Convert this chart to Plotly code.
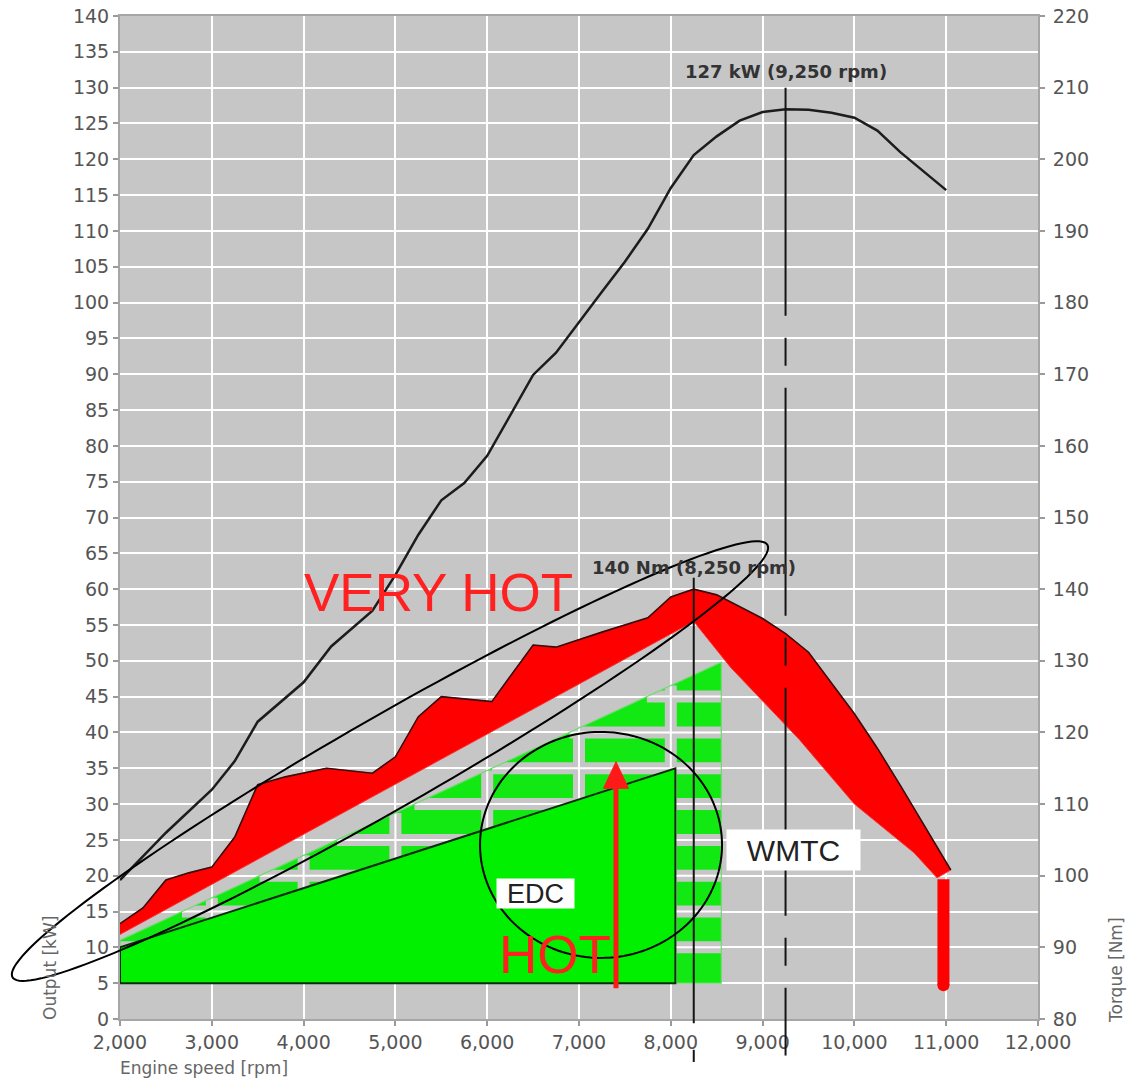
import numpy as np
import plotly.graph_objects as go

# ------------------------------------------------------------------
# Data: engine speed [rpm], output [kW], torque [Nm]
# ------------------------------------------------------------------
power_rpm = [2000, 2500, 3000, 3250, 3500, 4000, 4300, 4750, 5000, 5250, 5500, 5750,
             6000, 6250, 6500, 6750, 7000, 7250, 7500, 7750, 8000, 8250, 8500, 8750,
             9000, 9250, 9500, 9750, 10000, 10250, 10500, 11000]
power_kw = [19.4, 26.0, 32.0, 36.0, 41.5, 47.0, 52.0, 57.0, 62.0, 67.6, 72.4, 74.8,
            78.6, 84.3, 89.9, 93.0, 97.3, 101.5, 105.7, 110.3, 116.0, 120.6, 123.2, 125.4,
            126.6, 127.0, 126.9, 126.5, 125.8, 124.0, 121.0, 115.7]

# upper and lower edge of the torque band
torque_top_rpm = [2000, 2250, 2500, 2750, 3000, 3250, 3500, 3800, 4250, 4750, 5000, 5250,
                  5500, 6050, 6500, 6750, 7250, 7750, 8000, 8250, 8500, 9000, 9250, 9500,
                  10000, 10250, 10500, 10750, 11050]
torque_top_nm = [93.3, 95.5, 99.4, 100.4, 101.2, 105.4, 112.7, 113.8, 115.0, 114.3, 116.6, 122.2,
                 125.0, 124.3, 132.2, 131.9, 134.0, 136.0, 138.9, 140.0, 139.2, 135.9, 133.8, 131.2,
                 122.6, 117.8, 112.6, 107.3, 100.8]
torque_bottom_rpm = [2000, 8250, 8650, 9400, 10000, 10650, 10900]
torque_bottom_nm = [91.8, 135.5, 129.1, 119.0, 110.0, 103.2, 99.7]

# torque drop-off stub at the limiter
stub_rpm = [10970, 10970]
stub_nm = [99.5, 84.7]

# EDC and WMTC operating areas
edc_rpm = [2000, 2000, 8050, 8050, 2000]
edc_kw = [5, 10, 35, 5, 5]
wmtc_rpm = [2000, 2000, 8550, 8550, 2000]
wmtc_kw = [5, 11, 49.8, 5, 5]

x_ticks = list(range(2000, 12001, 1000))
y_ticks = list(range(0, 141, 5))
y2_ticks = list(range(80, 221, 10))

# ------------------------------------------------------------------
# Geometry helpers
# ------------------------------------------------------------------
X0, X1 = 2000, 12000
Y0, Y1 = 0, 140
T0, T1 = 80, 220
FIG_W, FIG_H = 1128, 1079
MARGIN = dict(l=120, r=90, t=16, b=60, autoexpand=False)
PW = FIG_W - MARGIN["l"] - MARGIN["r"]
PH = FIG_H - MARGIN["t"] - MARGIN["b"]

BG = "#c6c6c6"
FONT = "DejaVu Sans"


def nm_to_kw(nm):
    return Y0 + (nm - T0) / (T1 - T0) * (Y1 - Y0)


def paper_x(rpm):
    return (rpm - X0) / (X1 - X0)


def paper_y(kw):
    return (kw - Y0) / (Y1 - Y0)


def ellipse_path(cx_rpm, cy_kw, a_px, b_px, angle_deg, n=160):
    cx, cy = paper_x(cx_rpm), paper_y(cy_kw)
    t = np.linspace(0, 2 * np.pi, n)
    th = np.radians(angle_deg)
    dx = a_px * np.cos(t) * np.cos(th) - b_px * np.sin(t) * np.sin(th)
    dy = a_px * np.cos(t) * np.sin(th) + b_px * np.sin(t) * np.cos(th)
    xs = cx + dx / PW
    ys = cy + dy / PH
    pts = [f"{x:.5f},{y:.5f}" for x, y in zip(xs, ys)]
    return "M " + " L ".join(pts) + " Z"


fig = go.Figure()

# ---- WMTC area: green blocks separated along the grid ----
fig.add_trace(go.Scatter(x=wmtc_rpm, y=wmtc_kw, fill="toself", fillcolor="#12e812",
                         line=dict(width=0), mode="lines", hoverinfo="skip", showlegend=False))

top_r0, top_r1 = wmtc_rpm[1], wmtc_rpm[2]
top_k0, top_k1 = wmtc_kw[1], wmtc_kw[2]
gap_x, gap_y = [], []
for k in y_ticks:
    if wmtc_kw[0] < k < top_k1:
        r_start = max(top_r0, np.interp(k, [top_k0, top_k1], [top_r0, top_r1]))
        gap_x += [r_start, top_r1, None]
        gap_y += [k, k, None]
for r in x_ticks:
    if top_r0 < r < top_r1:
        k_top = np.interp(r, [top_r0, top_r1], [top_k0, top_k1])
        gap_x += [r, r, None]
        gap_y += [wmtc_kw[0], k_top, None]
fig.add_trace(go.Scatter(x=gap_x, y=gap_y, mode="lines", line=dict(color=BG, width=12),
                         hoverinfo="skip", showlegend=False))
fig.add_trace(go.Scatter(x=gap_x, y=gap_y, mode="lines", line=dict(color="white", width=2),
                         hoverinfo="skip", showlegend=False))
fig.add_trace(go.Scatter(x=wmtc_rpm, y=wmtc_kw, mode="lines",
                         line=dict(color="#6fdc6f", width=1.2), hoverinfo="skip", showlegend=False))

# ---- EDC area ----
fig.add_trace(go.Scatter(x=edc_rpm, y=edc_kw, fill="toself", fillcolor="#00f000",
                         mode="lines", line=dict(color="#0d2a0d", width=2),
                         hoverinfo="skip", showlegend=False))

# ---- torque band ----
band_x = torque_top_rpm + torque_bottom_rpm[::-1]
band_y = torque_top_nm + torque_bottom_nm[::-1]
fig.add_trace(go.Scatter(x=band_x, y=band_y, yaxis="y2", fill="toself", fillcolor="#ff0000",
                         mode="lines", line=dict(color="#ff3030", width=1),
                         hoverinfo="skip", showlegend=False))
fig.add_trace(go.Scatter(x=torque_top_rpm, y=torque_top_nm, yaxis="y2", mode="lines",
                         line=dict(color="#3a0c0c", width=1.6), hoverinfo="skip", showlegend=False))
fig.add_trace(go.Scatter(x=stub_rpm, y=stub_nm, yaxis="y2", mode="lines",
                         line=dict(color="#ff0000", width=12), hoverinfo="skip", showlegend=False))
fig.add_trace(go.Scatter(x=stub_rpm[1:], y=stub_nm[1:], yaxis="y2", mode="markers",
                         marker=dict(color="#ff0000", size=12, line=dict(width=0)),
                         hoverinfo="skip", showlegend=False))

# ---- power curve ----
fig.add_trace(go.Scatter(x=power_rpm, y=power_kw, mode="lines",
                         line=dict(color="#1c1c1c", width=2.5), hoverinfo="skip", showlegend=False))

# ---- peak markers ----
i_p = int(np.argmax(power_kw))
peak_power_kw, peak_power_rpm = power_kw[i_p], power_rpm[i_p]
i_t = int(np.argmax(torque_top_nm))
peak_torque_nm, peak_torque_rpm = torque_top_nm[i_t], torque_top_rpm[i_t]

shapes = []
shapes.append(dict(type="line", xref="paper", yref="paper",
                   x0=paper_x(peak_power_rpm), x1=paper_x(peak_power_rpm),
                   y0=paper_y(130), y1=paper_y(-5.1),
                   line=dict(color="#151515", width=2, dash="228px,22px,28px,22px"),
                   layer="above"))
shapes.append(dict(type="line", xref="paper", yref="paper",
                   x0=paper_x(peak_torque_rpm), x1=paper_x(peak_torque_rpm),
                   y0=paper_y(nm_to_kw(141.6)), y1=paper_y(-0.6),
                   line=dict(color="#151515", width=2), layer="above"))
shapes.append(dict(type="line", xref="paper", yref="paper",
                   x0=paper_x(peak_torque_rpm), x1=paper_x(peak_torque_rpm),
                   y0=paper_y(-4.3), y1=paper_y(-6.0),
                   line=dict(color="#151515", width=2), layer="above"))

# ---- hand-drawn highlights ----
shapes.append(dict(type="path", xref="paper", yref="paper",
                   path=ellipse_path(4941, 36.0, 435, 46, 29.8),
                   line=dict(color="black", width=2), fillcolor="rgba(0,0,0,0)", layer="above"))
shapes.append(dict(type="path", xref="paper", yref="paper",
                   path=ellipse_path(7240, 24.3, 121, 113, 0),
                   line=dict(color="black", width=2), fillcolor="rgba(0,0,0,0)", layer="above"))

# red arrow
arrow_rpm = 7403
shapes.append(dict(type="line", xref="x", yref="y", x0=arrow_rpm, x1=arrow_rpm, y0=4.3, y1=32.6,
                   line=dict(color="#ff1a1a", width=5), layer="above"))
shapes.append(dict(type="path", xref="x", yref="y",
                   path=f"M {arrow_rpm - 136},32.2 L {arrow_rpm + 136},32.2 L {arrow_rpm},35.9 Z",
                   fillcolor="#ff1a1a", line=dict(color="#ff1a1a", width=1), layer="above"))

annotations = [
    dict(x=peak_power_rpm, y=132.2, xref="x", yref="y",
         text=f"<b>{peak_power_kw:g} kW ({peak_power_rpm:,} rpm)</b>", showarrow=False,
         font=dict(family=FONT, size=18, color="#333333")),
    dict(x=peak_torque_rpm, y=143.0, xref="x", yref="y2",
         text=f"<b>{peak_torque_nm:g} Nm ({peak_torque_rpm:,} rpm)</b>", showarrow=False,
         font=dict(family=FONT, size=18, color="#333333")),
    dict(x=9337, y=23.6, xref="x", yref="y", text="WMTC", showarrow=False,
         bgcolor="white", width=131, height=38, borderpad=1,
         font=dict(family="Liberation Sans", size=30, color="#222222")),
    dict(x=6526, y=17.45, xref="x", yref="y", text="EDC", showarrow=False,
         bgcolor="white", width=75, height=27, borderpad=1,
         font=dict(family="Liberation Sans", size=27, color="#222222")),
    dict(x=5464, y=59.6, xref="x", yref="y", text="VERY HOT", showarrow=False,
         font=dict(family="Liberation Sans", size=53, color="#ff2020")),
    dict(x=6739, y=9.0, xref="x", yref="y", text="HOT", showarrow=False,
         font=dict(family="Liberation Sans", size=53, color="#ff2020")),
    # axis titles
    dict(x=-2 / PW, y=-49 / PH, xref="paper", yref="paper", text="Engine speed [rpm]",
         xanchor="left", yanchor="middle", showarrow=False,
         font=dict(family=FONT, size=17, color="#666666")),
    dict(x=-70 / PW, y=-3 / PH, xref="paper", yref="paper", text="Output [kW]",
         textangle=-90, xanchor="center", yanchor="bottom", showarrow=False,
         font=dict(family=FONT, size=17, color="#666666")),
    dict(x=1 + 78 / PW, y=-6 / PH, xref="paper", yref="paper", text="Torque [Nm]",
         textangle=-90, xanchor="center", yanchor="bottom", showarrow=False,
         font=dict(family=FONT, size=17, color="#666666")),
]

axis_common = dict(showline=True, linecolor="#a6a6a6", linewidth=2, ticks="outside",
                   ticklen=5, tickwidth=1.5, tickcolor="#9a9a9a", automargin=False,
                   tickfont=dict(family=FONT, size=19, color="#555555"))

fig.update_layout(
    width=FIG_W, height=FIG_H, margin=MARGIN,
    paper_bgcolor="white", plot_bgcolor=BG,
    xaxis=dict(range=[X0, X1], tickvals=x_ticks, ticktext=[f"{v:,}" for v in x_ticks],
               showgrid=True, gridcolor="white", gridwidth=2, zeroline=False, mirror=True,
               **axis_common),
    yaxis=dict(range=[Y0, Y1], tickvals=y_ticks, showgrid=True, gridcolor="white",
               gridwidth=2, zeroline=False, **axis_common),
    yaxis2=dict(range=[T0, T1], tickvals=y2_ticks, overlaying="y", side="right",
                showgrid=False, zeroline=False, ticklabelstandoff=4, **axis_common),
    shapes=shapes,
    annotations=annotations,
    showlegend=False,
)

fig.write_html("out.html")
